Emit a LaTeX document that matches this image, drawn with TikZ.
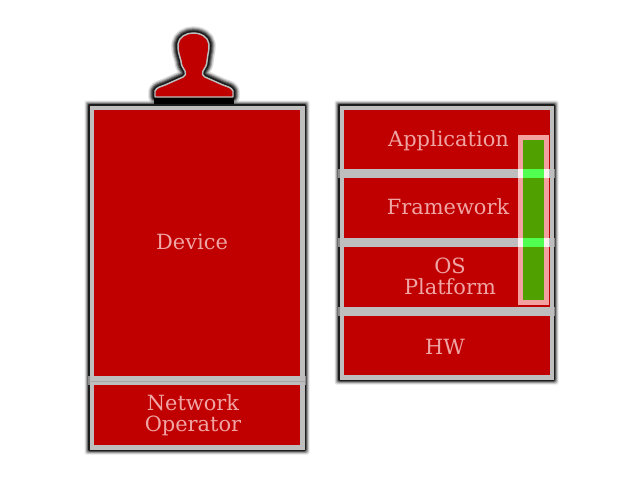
\documentclass[tikz,border=0pt]{standalone}
\usepackage{fontspec}
\setmainfont{DejaVu Serif}
\definecolor{layerred}{RGB}{192,0,0}
\definecolor{framegrey}{RGB}{190,190,190}
\definecolor{labelpink}{RGB}{240,165,165}
\definecolor{barpink}{RGB}{243,160,160}
\definecolor{bargreen}{RGB}{80,160,0}
\definecolor{crossgreen}{RGB}{80,255,80}
\newcommand{\softshadow}[4]{%
  \foreach \s/\o in {3.5/.1, 2.5/.18, 1.5/.3, 0.5/.45, 0/.6}
    \fill[black, opacity=\o, rounded corners=1.5] (#1-\s,#2-\s) rectangle (#3+\s,#4+\s);
}
\begin{document}
\begin{tikzpicture}[
  x=0.75pt, y=-0.75pt,
  layer/.style={fill=layerred},
  frame/.style={fill=framegrey},
  layer label/.style={text=labelpink, align=center, inner sep=0pt, font=\fontsize{15.7}{15.8}\selectfont},
  person/.style={line join=round}
]
  \useasboundingbox[fill=white] (0,0) rectangle (640,480);

  % Person outline, shared by shadow and figure
  \def\personpath{(155,97) -- (155,91) .. controls (157,87) and (160,87) .. (165,85)
    -- (183,77) .. controls (186,75) and (186,73) .. (185,71)
    .. controls (183,68) and (181,65) .. (181,61) -- (179,54)
    .. controls (178,50) and (178,47) .. (178,44)
    .. controls (179,37) and (186,33) .. (193,33)
    .. controls (201,33) and (208,37) .. (209,44)
    .. controls (209,47) and (209,50) .. (208,54) -- (207,61)
    .. controls (207,65) and (205,68) .. (203,71)
    .. controls (202,73) and (202,75) .. (205,77)
    -- (223,85) .. controls (228,87) and (231,87) .. (233,91) -- (233,97) -- cycle}

  % Person shadow
  \foreach \w/\o in {10/.15, 8/.22, 6.5/.3, 5/.4, 3.5/.6}
    \draw[person, black, opacity=\o, line width=\w] \personpath;
  \fill[black] (154,96) rectangle (234,104);
  % Person
  \draw[person, framegrey, fill=layerred, line width=1.1] \personpath;

  % Left stack: device and network operator
  \softshadow{88}{104}{306}{451}
  \fill[frame] (89.5,105.5) rectangle (304.5,449.5);
  \fill[frame, opacity=.7] (88,376) rectangle (306,385);
  \fill[layer] (94,110) rectangle (300,376);
  \fill[layer] (94,385) rectangle (300,445);
  \draw[black!35, line width=.6] (89,381) -- (305,381);
  \node[layer label] (device) at (192,242) {Device};
  \node[layer label] (network) at (193,415.5) {Network\\Operator};

  % Right stack: software layers and hardware
  \softshadow{338}{104}{555}{381}
  \fill[frame] (339.5,105.5) rectangle (553.5,379.5);
  \foreach \y in {169, 238, 307}
    \fill[frame, opacity=.7] (338,\y) rectangle (555,\y+9);
  \fill[layer] (344,110) rectangle (550,169);
  \fill[layer] (344,178) rectangle (550,238);
  \fill[layer] (344,247) rectangle (550,307);
  \fill[layer] (344,316) rectangle (550,375);
  \node[layer label] (application) at (448.5,140.5) {Application};
  \node[layer label] (framework) at (448,207) {Framework};
  \node[layer label] (platform) at (450,276.5) {OS\\Platform};
  \node[layer label] (hardware) at (445,347) {HW};

  % Highlight bar across the software layers
  \fill[barpink] (517.5,135) rectangle (549,304.5);
  \fill[bargreen] (522.5,139.5) rectangle (544,300);
  \foreach \y in {169, 238} {
    \fill[white, opacity=.85] (517.5,\y) rectangle (549,\y+9);
    \fill[crossgreen] (522.5,\y) rectangle (544,\y+9);
  }
\end{tikzpicture}
\end{document}
